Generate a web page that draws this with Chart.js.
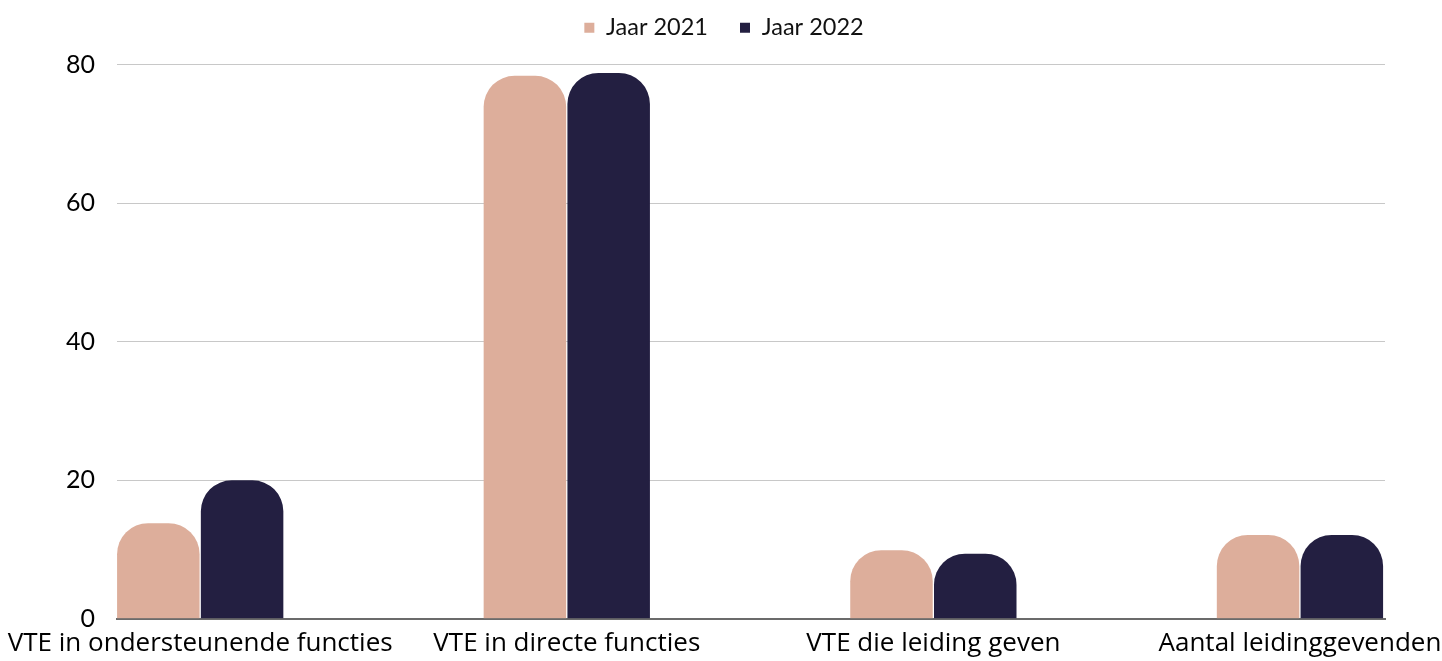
<!DOCTYPE html>
<html>
<head>
<meta charset="utf-8">
<script src="https://cdn.jsdelivr.net/npm/chart.js@4/dist/chart.umd.min.js"></script>
<style>
  html, body { margin: 0; padding: 0; background: #fff; overflow: hidden; }
  #wrap { width: 1442px; height: 661px; overflow: hidden; }
</style>
</head>
<body>
<div id="wrap"><canvas id="myChart" width="1442" height="668"></canvas></div>
<script>
const categorieen = ["VTE in ondersteunende functies", "VTE in directe functies", "VTE die leiding geven", "Aantal leidinggevenden"]
const jaar2021 = [13.8, 78.4, 9.9, 12.1]
const jaar2022 = [20.0, 78.8, 9.4, 12.1]
const yTicks = [0, 20, 40, 60, 80]

const kleur2021 = "#ddae9b"
const kleur2022 = "#231f41"

function punten(waarden) {
    return waarden.map((v, i) => ({ x: i, y: v }))
}

const ctx = document.getElementById("myChart").getContext("2d")
window.myChart = new Chart(ctx, {
    type: "bar",
    data: {
        datasets: [{
            label: "Jaar 2021",
            data: punten(jaar2021),
            backgroundColor: kleur2021,
            borderRadius: 31,
            borderSkipped: "start",
            categoryPercentage: 0.457,
            barPercentage: 0.985
        }, {
            label: "Jaar 2022",
            data: punten(jaar2022),
            backgroundColor: kleur2022,
            borderRadius: 31,
            borderSkipped: "start",
            categoryPercentage: 0.457,
            barPercentage: 0.985
        }]
    },
    options: {
        responsive: false,
        animation: false,
        devicePixelRatio: 1,
        layout: { padding: { top: -16, left: 63, right: 57, bottom: 0 } },
        plugins: {
            tooltip: { enabled: false },
            legend: {
                position: "top",
                labels: {
                    boxWidth: 10,
                    boxHeight: 10,
                    padding: 32,
                    color: "#111",
                    font: { family: "Lato", size: 23.5 }
                }
            },
            // lege titel als ruimte onder de legenda
            title: {
                display: true,
                text: "",
                weight: 500,
                padding: 1,
                font: { size: 11 }
            }
        },
        scales: {
            x: {
                type: "linear",
                offset: false,
                min: -0.227,
                max: 3.232,
                afterBuildTicks: (s) => { s.ticks = categorieen.map((c, i) => ({ value: i })) },
                afterFit: (s) => { s.paddingLeft = 0; s.paddingRight = 0 },
                grid: { display: false, drawTicks: false },
                border: { display: true, color: "#6b6b6b", width: 2 },
                ticks: {
                    autoSkip: false,
                    maxRotation: 0,
                    padding: 9,
                    color: "#000",
                    font: { family: "Open Sans", size: 26 },
                    callback: (v) => categorieen[v] || ""
                }
            },
            y: {
                min: 0,
                max: 80,
                afterBuildTicks: (s) => { s.ticks = yTicks.map(v => ({ value: v })) },
                afterFit: (s) => { s.width = 54 },
                grid: { color: "#c8c8c8", lineWidth: 1, drawTicks: false },
                border: { display: false },
                ticks: {
                    padding: 22,
                    color: "#000",
                    font: { family: "Lato", size: 25 }
                }
            }
        }
    }
})
</script>
</body>
</html>
